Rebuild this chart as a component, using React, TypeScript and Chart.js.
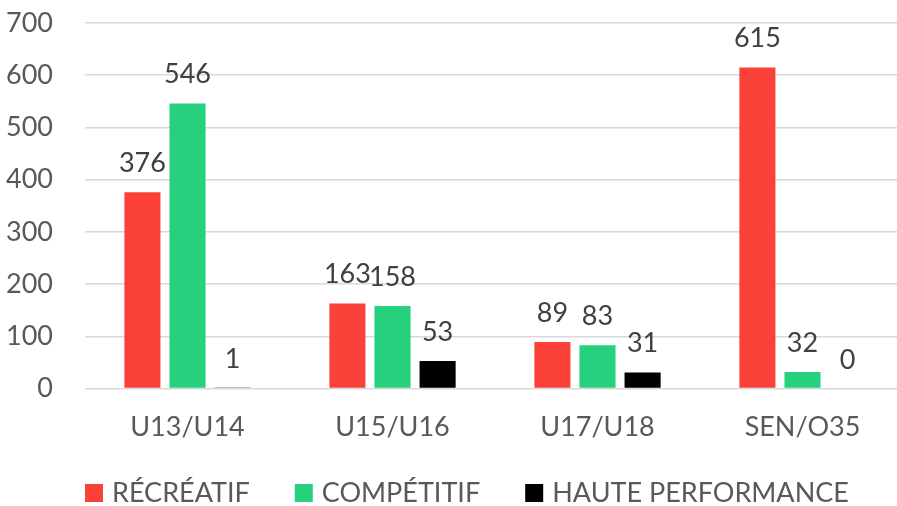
import React, { useEffect, useRef } from "react";
import { Chart, registerables } from "chart.js";

Chart.register(...registerables);

const categories = ["U13/U14", "U15/U16", "U17/U18", "SEN/O35"];
const seriesNames = ["RÉCRÉATIF", "COMPÉTITIF", "HAUTE PERFORMANCE"];
const recreatif = [376, 163, 89, 615];
const competitif = [546, 158, 83, 32];
const hautePerformance = [1, 53, 31, 0];
const seriesColors = ["#FA423B", "#26D07C", "#000000"];
const yMax = 700;
const yStep = 100;

const FONT = "Lato, 'Open Sans', sans-serif";

const dataLabels = {
  id: "dataLabels",
  afterDatasetsDraw(chart: any) {
    const ctx = chart.ctx;
    ctx.save();
    ctx.font = `27px ${FONT}`;
    ctx.fillStyle = "#404040";
    ctx.textAlign = "center";
    ctx.textBaseline = "alphabetic";
    chart.data.datasets.forEach((ds: any, i: number) => {
      const meta = chart.getDatasetMeta(i);
      meta.data.forEach((el: any, j: number) => {
        ctx.fillText(String(ds.data[j]), el.x, el.y - 20);
      });
    });
    ctx.restore();
  },
};

const customLegend = {
  id: "customLegend",
  afterDraw(chart: any) {
    const ctx = chart.ctx;
    ctx.save();
    ctx.font = `27px ${FONT}`;
    ctx.textAlign = "left";
    ctx.textBaseline = "alphabetic";
    const base = chart.height - 4;
    let x = chart.chartArea.left;
    chart.data.datasets.forEach((ds: any) => {
      ctx.fillStyle = ds.backgroundColor;
      ctx.fillRect(x, base - 18, 18, 18);
      x += 27;
      ctx.fillStyle = "#595959";
      ctx.fillText(ds.label, x, base);
      x += ctx.measureText(ds.label).width + 45;
    });
    ctx.restore();
  },
};

export default function App() {
  const ref = useRef<HTMLCanvasElement | null>(null);
  useEffect(() => {
    if (!ref.current) return;
    const chart = new Chart(ref.current, {
      type: "bar",
      data: {
        labels: categories,
        datasets: [recreatif, competitif, hautePerformance].map((d, i) => ({
          label: seriesNames[i],
          data: d,
          backgroundColor: seriesColors[i],
          borderWidth: 0,
          categoryPercentage: 0.66,
          barPercentage: 0.8,
        })),
      },
      options: {
        animation: false,
        responsive: true,
        maintainAspectRatio: false,
        layout: { padding: { top: 23, right: 5, bottom: 41, left: 0 } },
        plugins: {
          tooltip: { enabled: false },
          legend: { display: false },
        },
        scales: {
          x: {
            grid: { display: false, drawTicks: false },
            border: { display: false },
            afterFit: (s: any) => {
              s.paddingLeft = 0;
              s.paddingRight = 0;
            },
            ticks: {
              color: "#595959",
              font: { family: FONT, size: 27 },
              padding: 22,
            },
          },
          y: {
            min: 0,
            max: yMax,
            afterFit: (s: any) => {
              s.width = 85;
              s.paddingTop = 0;
              s.paddingBottom = 0;
            },
            grid: { color: "#d9d9d9", lineWidth: 1.5, drawTicks: false },
            border: { display: false },
            ticks: {
              stepSize: yStep,
              color: "#595959",
              font: { family: FONT, size: 27 },
              padding: 32,
            },
          },
        },
      },
      plugins: [dataLabels, customLegend],
    });
    return () => chart.destroy();
  }, []);
  return (
    <div style={{ position: "fixed", left: 0, top: 0, width: 897, height: 506, overflow: "hidden", background: "#fff" }}>
      <div style={{ width: 910, height: 506, position: "relative" }}>
        <canvas ref={ref} />
      </div>
    </div>
  );
}
